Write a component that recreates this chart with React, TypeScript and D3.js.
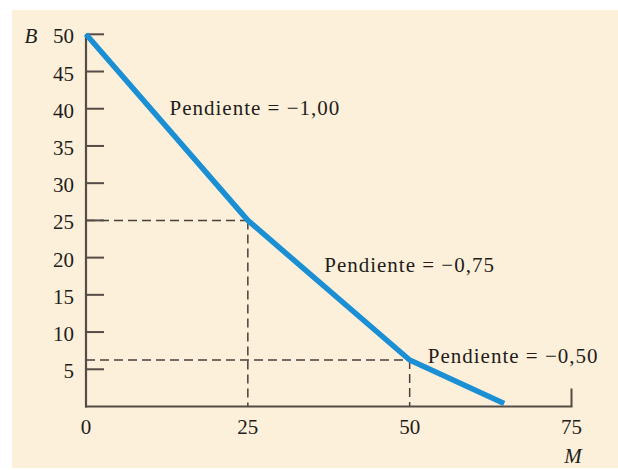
import React from "react";
import * as d3 from "d3";

const xTicks = [0, 25, 50, 75];
const yTicks = [5, 10, 15, 20, 25, 30, 35, 40, 45, 50];
const lineM = [0, 25, 50, 64.6];
const lineB = [50, 25, 6.25, 0.4];
const guideM = [25, 50];
const guideB = [25, 6.25];
const slopeLabels = ["Pendiente = \u22121,00", "Pendiente = \u22120,75", "Pendiente = \u22120,50"];
const slopeLabelM = [12.9, 36.8, 52.8];
const slopeLabelB = [39.2, 18.1, 5.9];

const W = 618;
const H = 470;

export default function App() {
  const x = d3.scaleLinear().domain([0, 75]).range([86, 571.5]);
  const y = d3.scaleLinear().domain([0, 50]).range([406.5, 34.3]);
  const pts: [number, number][] = lineM.map((m, i) => [m, lineB[i]]);
  const line = d3
    .line<[number, number]>()
    .x((d) => x(d[0]))
    .y((d) => y(d[1]));
  const axisColor = "#544c47";
  const font = "'Liberation Serif', 'Times New Roman', serif";
  const textColor = "#221d1a";
  return (
    <svg
      width={W}
      height={H}
      style={{ position: "fixed", left: 0, top: 0, display: "block" }}
    >
      <rect x={0} y={0} width={W} height={H} fill="#ffffff" />
      <rect x={12} y={10} width={W - 12} height={458} fill="#fdf0da" />
      {guideM.map((m, i) => (
        <g key={"g" + i} stroke="#47403b" strokeWidth={1.5} strokeDasharray="9 5" fill="none">
          <line x1={x(0)} x2={x(m)} y1={y(guideB[i])} y2={y(guideB[i])} />
          <line x1={x(m)} x2={x(m)} y1={y(guideB[i])} y2={y(0)} />
        </g>
      ))}
      <line x1={x(0)} x2={x(0)} y1={y(50)} y2={y(0) + 1} stroke={axisColor} strokeWidth={2.2} />
      <line x1={x(0) - 1} x2={x(75) + 1} y1={y(0)} y2={y(0)} stroke={axisColor} strokeWidth={2.2} />
      <line x1={x(75)} x2={x(75)} y1={y(0)} y2={y(0) - 18} stroke={axisColor} strokeWidth={2} />
      {yTicks.map((t) => (
        <g key={"yt" + t}>
          <line x1={x(0)} x2={x(0) + 18} y1={y(t)} y2={y(t)} stroke={axisColor} strokeWidth={2} />
          <text
            x={x(0) - 12}
            y={y(t) + 9}
            textAnchor="end"
            fontFamily={font}
            fontSize={21}
            fill={textColor}
          >
            {t}
          </text>
        </g>
      ))}
      {xTicks.map((t) => (
        <text
          key={"xt" + t}
          x={x(t)}
          y={434}
          textAnchor="middle"
          fontFamily={font}
          fontSize={21}
          fill={textColor}
        >
          {t}
        </text>
      ))}
      <text x={31} y={43} textAnchor="middle" fontFamily={font} fontStyle="italic" fontSize={21} fill={textColor}>
        B
      </text>
      <text x={573} y={463} textAnchor="middle" fontFamily={font} fontStyle="italic" fontSize={21} fill={textColor}>
        M
      </text>
      <path
        d={line(pts) || ""}
        fill="none"
        stroke="#1a8fd4"
        strokeWidth={5.5}
        strokeLinejoin="round"
        strokeLinecap="butt"
      />
      {slopeLabels.map((s, i) => (
        <text
          key={"sl" + i}
          x={x(slopeLabelM[i])}
          y={y(slopeLabelB[i])}
          fontFamily={font}
          fontSize={21}
          letterSpacing={1}
          fill={textColor}
        >
          {s}
        </text>
      ))}
    </svg>
  );
}
